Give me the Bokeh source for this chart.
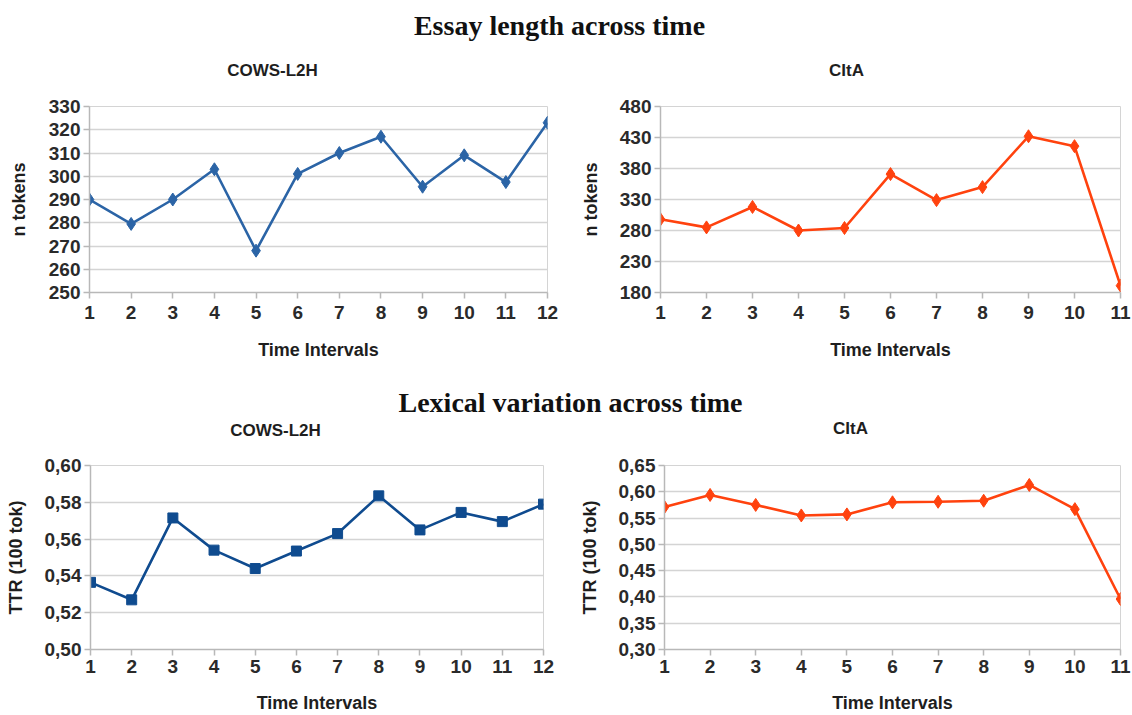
from bokeh.plotting import figure
from bokeh.layouts import column, row
from bokeh.models import Range1d, FixedTicker, CustomJSTickFormatter, ColumnDataSource
from bokeh.core.properties import value
from bokeh.embed import file_html
from bokeh.resources import INLINE

# ---------------- data ----------------
main_title_1 = "Essay length across time"
main_title_2 = "Lexical variation across time"
sub_left = "COWS-L2H"
sub_right = "CItA"
x_label = "Time Intervals"
y_label_top = "n tokens"
y_label_bottom = "TTR (100 tok)"

cows_x = [1, 2, 3, 4, 5, 6, 7, 8, 9, 10, 11, 12]
cita_x = [1, 2, 3, 4, 5, 6, 7, 8, 9, 10, 11]

cows_tokens = [290, 279.5, 290, 303, 268, 301, 310, 317, 295.5, 309, 297.5, 323]
cita_tokens = [298, 285, 318, 280, 284, 371, 329, 350, 432, 416, 191]

cows_ttr = [0.5365, 0.527, 0.5715, 0.554, 0.544, 0.5535, 0.563, 0.5835, 0.565, 0.5745, 0.5695, 0.579]
cita_ttr = [0.571, 0.594, 0.575, 0.555, 0.557, 0.580, 0.581, 0.583, 0.613, 0.567, 0.396]

cows_tok_yticks = [250, 260, 270, 280, 290, 300, 310, 320, 330]
cita_tok_yticks = [180, 230, 280, 330, 380, 430, 480]
cows_ttr_yticks = [0.50, 0.52, 0.54, 0.56, 0.58, 0.60]
cita_ttr_yticks = [0.30, 0.35, 0.40, 0.45, 0.50, 0.55, 0.60, 0.65]

BLUE_LIGHT = "#2b64a6"
BLUE_DARK = "#0f4b8f"
ORANGE = "#ff420e"
SANS = "Liberation Sans"
SERIF = "Liberation Serif"
TXT = "#1e1e1e"
FS = "19px"


def header_fig(main, height, main_pos, subs):
    p = figure(width=1132, height=height, x_range=Range1d(0, 1132), y_range=Range1d(0, height),
               toolbar_location=None, output_backend="svg", min_border=0)
    p.axis.visible = False
    p.grid.visible = False
    p.outline_line_color = None
    p.text(x=[main_pos[0]], y=[height - main_pos[1]], text=[main], text_font=value(SERIF),
           text_font_style="bold", text_font_size="28px", text_align="center",
           text_baseline="middle", text_color="#111111")
    p.text(x=[s[1] for s in subs], y=[height - s[2] for s in subs], text=[s[0] for s in subs],
           text_font=value(SANS), text_font_style="bold", text_font_size="17px",
           text_align="center", text_baseline="middle", text_color=TXT)
    return p


def chart(xs, ys, yticks, color, marker, msize, width, height, bl, br, bt, bb,
          tick_standoff, xlabel_standoff, ylabel, comma=False, ylabel_standoff=14):
    p = figure(width=width, height=height, toolbar_location=None, output_backend="svg",
               title=None,
               x_range=Range1d(xs[0], xs[-1]), y_range=Range1d(yticks[0], yticks[-1]),
               min_border_left=bl, min_border_right=br, min_border_top=bt, min_border_bottom=bb)
    p.outline_line_color = "#d4d4d4"
    p.xgrid.visible = False
    p.ygrid.grid_line_color = "#d4d4d4"
    p.ygrid.grid_line_width = 1.5
    p.xaxis.ticker = FixedTicker(ticks=xs)
    p.yaxis.ticker = FixedTicker(ticks=yticks)
    if comma:
        p.yaxis.formatter = CustomJSTickFormatter(code="return tick.toFixed(2).replace('.', ',');")
    for ax in (p.xaxis[0], p.yaxis[0]):
        ax.axis_line_color = "#b8b8b8"
        ax.axis_line_width = 1.5
        ax.major_tick_line_color = "#b8b8b8"
        ax.major_tick_line_width = 1.5
        ax.major_tick_out = 6
        ax.major_tick_in = 0
        ax.minor_tick_line_color = None
        ax.major_label_text_font = SANS
        ax.major_label_text_font_style = "bold"
        ax.major_label_text_font_size = FS
        ax.major_label_text_color = "#2a2a2a"
        ax.major_label_standoff = 3
        ax.axis_label_text_font = SANS
        ax.axis_label_text_font_style = "bold"
        ax.axis_label_text_font_size = "18px"
        ax.axis_label_text_color = TXT
    p.xaxis.major_label_standoff = tick_standoff
    p.xaxis.axis_label = x_label
    p.xaxis.axis_label_standoff = xlabel_standoff
    p.yaxis.axis_label = ylabel
    p.yaxis.axis_label_standoff = ylabel_standoff
    src = ColumnDataSource(dict(x=xs, y=ys))
    p.line("x", "y", source=src, line_color=color, line_width=2.6)
    p.scatter("x", "y", source=src, marker=marker, size=msize, fill_color=color, line_color=color)
    return p


h1 = header_fig(main_title_1, 92, (559, 25), [(sub_left, 272, 70), (sub_right, 846, 70)])
p1 = chart(cows_x, cows_tokens, cows_tok_yticks, BLUE_LIGHT, "diamond", 13,
           566, 274, 89, 19, 14, 71, 7, 18, y_label_top, ylabel_standoff=17)
p2 = chart(cita_x, cita_tokens, cita_tok_yticks, ORANGE, "diamond", 13,
           566, 274, 94, 12, 13, 74, 7, 18, y_label_top, ylabel_standoff=16)
h2 = header_fig(main_title_2, 74, (570, 36), [(sub_left, 275, 64), (sub_right, 850, 62)])
p3 = chart(cows_x, cows_ttr, cows_ttr_yticks, BLUE_DARK, "square", 10,
           566, 275, 90, 23, 25, 63, 4, 17, y_label_bottom, comma=True, ylabel_standoff=16)
p4 = chart(cita_x, cita_ttr, cita_ttr_yticks, ORANGE, "diamond", 13,
           566, 275, 98, 12, 20, 65, 4, 17, y_label_bottom, comma=True, ylabel_standoff=16)

layout = column(h1, row(p1, p2), h2, row(p3, p4))
open("out.html", "w").write(file_html(layout, INLINE))
